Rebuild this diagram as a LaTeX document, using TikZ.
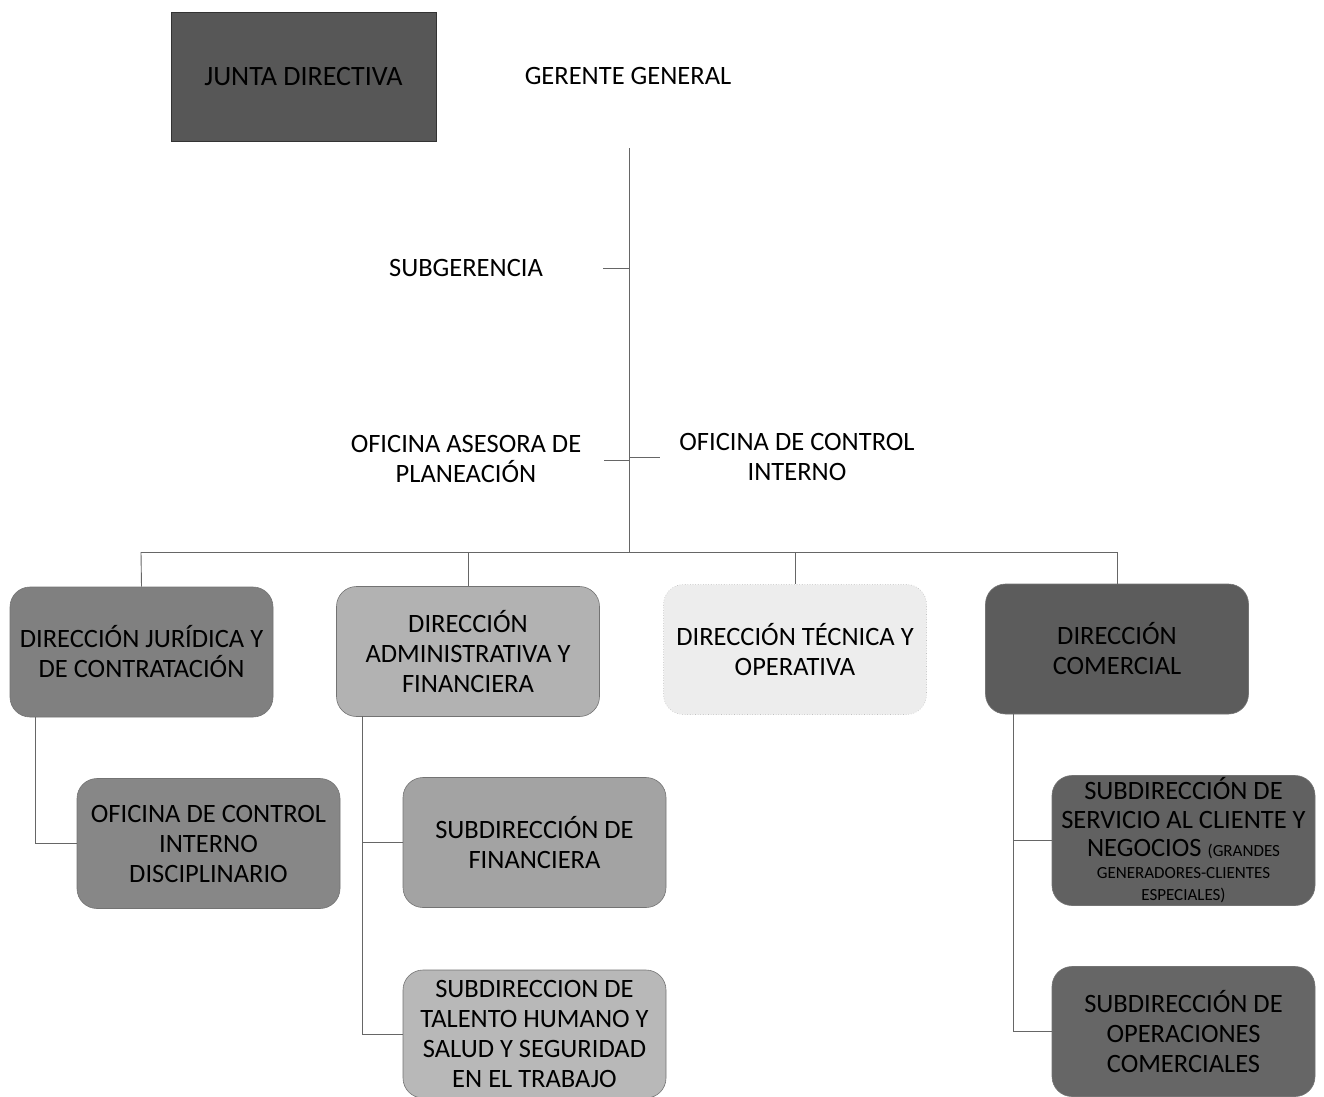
\documentclass[tikz,border=0pt]{standalone}
\usepackage{fontspec}
\setmainfont{Carlito}
\begin{document}
\begin{tikzpicture}[x=1pt,y=-1pt,
  lbl/.style={align=center,inner sep=0pt,font=\fontsize{26.5}{30}\selectfont},
  box/.style={lbl,draw=black!55,line width=0.6pt,rounded corners=20pt,
     minimum width=263pt,minimum height=130pt},
  conn/.style={draw=black!60,line width=0.9pt}]
\useasboundingbox (0,0) rectangle (1324,1096);
% top
\node[lbl,font=\fontsize{28}{30}\selectfont,draw=black!80,fill=black!66,minimum width=265pt,minimum height=129pt] (jd) at (303.5,76.5) {JUNTA DIRECTIVA};
\node[lbl] (gg) at (628,76) {GERENTE GENERAL};
\node[lbl] (sg) at (466,268) {SUBGERENCIA};
\node[lbl] (oap) at (466,459) {OFICINA ASESORA DE\\PLANEACIÓN};
\node[lbl] (oci) at (797,457) {OFICINA DE CONTROL\\INTERNO};
% level 1
\node[box,fill=black!50] (b1) at (141.5,652) {DIRECCIÓN JURÍDICA Y\\DE CONTRATACIÓN};
\node[box,fill=black!30] (b2) at (468,651.5) {DIRECCIÓN\\ADMINISTRATIVA Y\\FINANCIERA};
\node[box,fill=black!7,draw=black!25,dotted] (b3) at (795,649.5) {DIRECCIÓN TÉCNICA Y\\OPERATIVA};
\node[box,fill=black!64] (b4) at (1117,649) {DIRECCIÓN\\COMERCIAL};
% level 2
\node[box,fill=black!47] (ocid) at (208.5,843.5) {OFICINA DE CONTROL\\INTERNO\\DISCIPLINARIO};
\node[box,fill=black!36] (sf) at (534.5,842.5) {SUBDIRECCIÓN DE\\FINANCIERA};
\node[box,fill=black!28,minimum height=128pt] (sth) at (534.5,1034) {SUBDIRECCION DE\\TALENTO HUMANO Y\\SALUD Y SEGURIDAD\\EN EL TRABAJO};
\node[box,fill=black!62] (ssc) at (1183.5,840.5) {SUBDIRECCIÓN DE\\[-1pt]SERVICIO AL CLIENTE Y\\[-2pt]NEGOCIOS {\fontsize{17}{22}\selectfont (GRANDES}\\[-8pt]{\fontsize{17}{22}\selectfont GENERADORES-CLIENTES}\\[-8pt]{\fontsize{17}{22}\selectfont ESPECIALES)}};
\node[box,fill=black!60] (soc) at (1183.5,1031.5) {SUBDIRECCIÓN DE\\OPERACIONES\\COMERCIALES};
% coordinates
\coordinate (top) at (629,148);
\coordinate (bus) at (629,552);
\coordinate (busL) at (141,552);
\coordinate (busR) at (1117,552);
\coordinate (tsg) at (603,268);
\coordinate (toap) at (604,460);
\coordinate (toci) at (660,457);
\coordinate (d1) at (35,717);
\coordinate (d2) at (362,716);
\coordinate (d4) at (1013,714);
% connectors
\draw[conn] (top) -- (bus);
\draw[conn] (tsg) -- (tsg -| top);
\draw[conn] (toap) -- (toap -| top);
\draw[conn] (toci -| top) -- (toci);
\draw[conn] (busL) -- (busR);
\draw[conn] (busL) -- (b1.north);
\draw[conn] (b2.north |- bus) -- (b2.north);
\draw[conn] (b3.north |- bus) -- (b3.north);
\draw[conn] (busR) -- (b4.north);
\draw[conn] (d1) |- (ocid.west);
\draw[conn] (d2) |- (sf.west);
\draw[conn] (d2) |- (sth.west);
\draw[conn] (d4) |- (ssc.west);
\draw[conn] (d4) |- (soc.west);
\end{tikzpicture}
\end{document}
